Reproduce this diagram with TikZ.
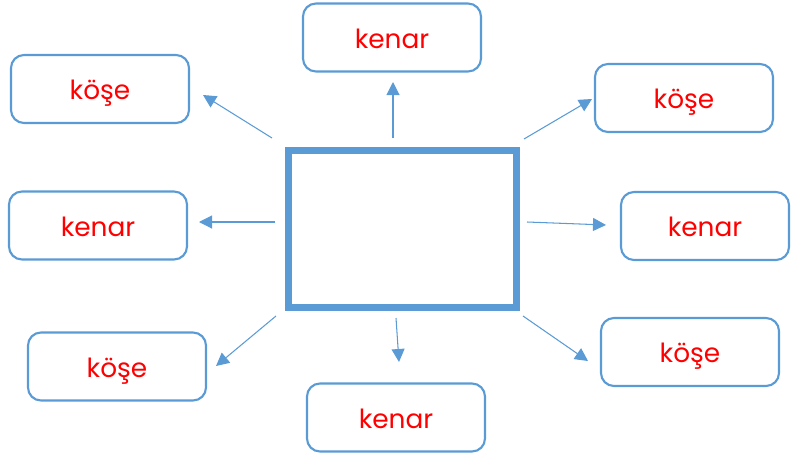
\documentclass[tikz,border=0pt]{standalone}
\usepackage{fontspec}
\setmainfont{Poppins}
\usetikzlibrary{arrows.meta}
\definecolor{kutumavi}{RGB}{91,155,213}

\begin{document}
\begin{tikzpicture}[
    kutu/.style={draw=kutumavi,line width=1.2pt,rounded corners=2.6mm,fill=white,
        minimum width=3.56cm,minimum height=1.36cm,inner sep=0pt,
        text height=1.25em,text depth=0pt,
        text=red,font=\fontsize{15}{17}\selectfont},
    ok/.style={draw=kutumavi,line width=0.6pt,-{Triangle[length=2.6mm,width=2.6mm]}}]
      \useasboundingbox (0,0) rectangle (15.82,9.14);
      % kutular
      \node[kutu] (kose1) at (2.00,7.36) {köşe};
      \node[kutu] (kenar1) at (7.84,8.39) {kenar};
      \node[kutu] (kose2) at (13.68,7.18) {köşe};
      \node[kutu] (kenar2) at (1.96,4.63) {kenar};
      \node[kutu,minimum width=3.36cm] (kenar3) at (14.10,4.62) {kenar};
      \node[kutu] (kose3) at (2.34,1.81) {köşe};
      \node[kutu] (kenar4) at (7.92,0.79) {kenar};
      \node[kutu] (kose4) at (13.80,2.10) {köşe};
      % kare
      \node[draw=kutumavi,line width=4pt,minimum width=4.56cm,minimum height=3.14cm,
        inner sep=0pt] (kare) at (8.05,4.56) {};
      % ok uclari
      \coordinate (s1) at (5.44,6.38);
      \coordinate (t1) at (4.06,7.24);
      \coordinate (s2) at (7.86,6.38);
      \coordinate (t2) at (7.86,7.50);
      \coordinate (s3) at (10.48,6.36);
      \coordinate (t3) at (11.84,7.16);
      \coordinate (s4) at (5.50,4.70);
      \coordinate (t4) at (3.98,4.70);
      \coordinate (s5) at (10.54,4.70);
      \coordinate (t5) at (12.12,4.64);
      \coordinate (s6) at (5.52,2.82);
      \coordinate (t6) at (4.32,1.82);
      \coordinate (s7) at (7.92,2.78);
      \coordinate (t7) at (7.98,1.90);
      \coordinate (s8) at (10.46,2.82);
      \coordinate (t8) at (11.76,1.92);
      \foreach \i in {1,...,8}
        \draw[ok] (s\i) -- (t\i);
    \end{tikzpicture}
\end{document}
